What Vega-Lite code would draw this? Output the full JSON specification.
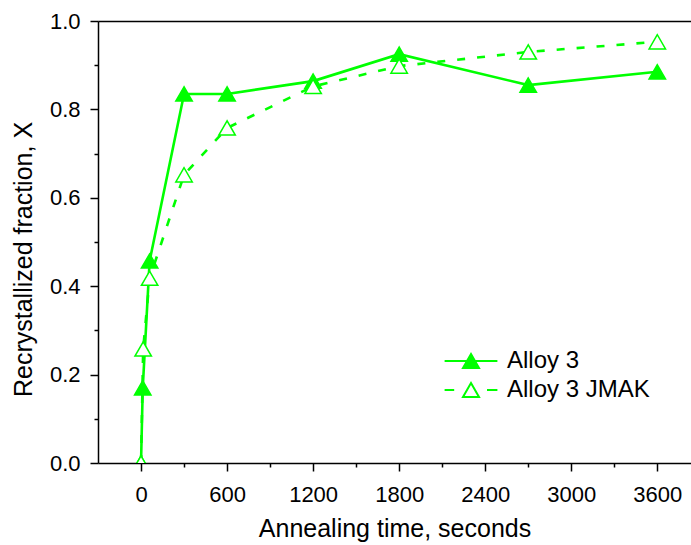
{
  "$schema": "https://vega.github.io/schema/vega-lite/v6.json",
  "width": 593,
  "height": 442,
  "autosize": {"type": "none"},
  "padding": {"left": 98, "top": 21, "right": 0, "bottom": 82},
  "background": "white",
  "config": {"view": {"stroke": null}, "font": "Liberation Sans"},
  "data": {"values": [
    {"series": "Alloy 3", "time": 0, "X": 0},
    {"series": "Alloy 3", "time": 12, "X": 0.17},
    {"series": "Alloy 3", "time": 60, "X": 0.457},
    {"series": "Alloy 3", "time": 300, "X": 0.835},
    {"series": "Alloy 3", "time": 600, "X": 0.835},
    {"series": "Alloy 3", "time": 1200, "X": 0.864},
    {"series": "Alloy 3", "time": 1800, "X": 0.925},
    {"series": "Alloy 3", "time": 2700, "X": 0.855},
    {"series": "Alloy 3", "time": 3600, "X": 0.885},
    {"series": "Alloy 3 JMAK", "time": 0, "X": 0},
    {"series": "Alloy 3 JMAK", "time": 15, "X": 0.258},
    {"series": "Alloy 3 JMAK", "time": 60, "X": 0.418},
    {"series": "Alloy 3 JMAK", "time": 300, "X": 0.652},
    {"series": "Alloy 3 JMAK", "time": 600, "X": 0.758},
    {"series": "Alloy 3 JMAK", "time": 1200, "X": 0.852},
    {"series": "Alloy 3 JMAK", "time": 1800, "X": 0.898},
    {"series": "Alloy 3 JMAK", "time": 2700, "X": 0.93},
    {"series": "Alloy 3 JMAK", "time": 3600, "X": 0.953}
  ]},
  "resolve": {"axis": {"x": "independent"}},
  "layer": [
    {
      "transform": [{"filter": "datum.series === 'Alloy 3'"}],
      "mark": {"type": "line", "strokeWidth": 2.6, "clip": true, "color": "#00ff00"},
      "encoding": {
        "x": {"field": "time", "type": "quantitative",
          "scale": {"domain": [-300, 3835], "nice": false, "zero": false},
          "axis": {
            "orient": "bottom",
            "values": [0, 300, 600, 900, 1200, 1500, 1800, 2100, 2400, 2700, 3000, 3300, 3600],
            "format": "d",
            "labelExpr": "datum.value % 600 === 0 ? datum.label : ''",
            "tickSize": {"condition": {"test": "datum.value % 600 === 0", "value": 8}, "value": 4},
            "tickColor": "black", "tickWidth": 1.5,
            "domainColor": "black", "domainWidth": 1.5,
            "labelFont": "Liberation Sans", "labelFontSize": 22, "labelColor": "black",
            "labelPadding": 13, "labelFlush": false, "labelOverlap": false,
            "grid": false,
            "title": "Annealing time, seconds",
            "titleFont": "Liberation Sans", "titleFontSize": 25, "titleFontWeight": "normal",
            "titleColor": "black", "titlePadding": 11
          }
        },
        "y": {"field": "X", "type": "quantitative",
          "scale": {"domain": [0, 1], "nice": false},
          "axis": {
            "values": [0, 0.1, 0.2, 0.3, 0.4, 0.5, 0.6, 0.7, 0.8, 0.9, 1.0],
            "labelExpr": "round(datum.value * 10) % 2 === 0 ? format(datum.value, '.1f') : ''",
            "tickSize": {"condition": {"test": "round(datum.value * 10) % 2 === 0", "value": 8}, "value": 4},
            "tickColor": "black", "tickWidth": 1.5,
            "domainColor": "black", "domainWidth": 1.5,
            "labelFont": "Liberation Sans", "labelFontSize": 22, "labelColor": "black",
            "labelPadding": 10, "labelFlush": false, "labelOverlap": false,
            "grid": false,
            "title": "Recrystallized fraction, X",
            "titleFont": "Liberation Sans", "titleFontSize": 25, "titleFontWeight": "normal",
            "titleColor": "black", "titlePadding": 13, "titleY": 238
          }
        }
      }
    },
    {
      "transform": [{"filter": "datum.series === 'Alloy 3 JMAK'"}],
      "mark": {"type": "line", "strokeWidth": 2.6, "clip": true, "color": "#00ff00", "strokeDash": [8, 12]},
      "encoding": {
        "x": {"field": "time", "type": "quantitative",
          "scale": {"domain": [-300, 3835], "nice": false, "zero": false},
          "axis": null},
        "y": {"field": "X", "type": "quantitative"}
      }
    },
    {
      "mark": {"type": "point", "shape": "triangle-up", "size": 270, "filled": true, "strokeWidth": 1.5, "opacity": 1, "clip": true},
      "encoding": {
        "x": {"field": "time", "type": "quantitative",
          "scale": {"domain": [-300, 3835], "nice": false, "zero": false},
          "axis": {"orient": "top", "labels": false, "ticks": false, "title": null, "grid": false,
            "domainColor": "black", "domainWidth": 1.5}
        },
        "y": {"field": "X", "type": "quantitative"},
        "fill": {"field": "series", "type": "nominal",
          "scale": {"domain": ["Alloy 3", "Alloy 3 JMAK"], "range": ["#00ff00", "#ffffff"]},
          "legend": {
            "title": null,
            "orient": "none",
            "legendX": 361,
            "legendY": 328,
            "values": ["Alloy 3"],
            "symbolSize": 256,
            "symbolType": "M-3.3,0L3.3,0M0,-0.866L1,0.866L-1,0.866Z",
            "symbolStrokeWidth": 2,
            "symbolStrokeColor": "#00ff00",
            "labelFont": "Liberation Sans", "labelFontSize": 24, "labelColor": "black",
            "labelOffset": 24
          }
        },
        "stroke": {"field": "series", "type": "nominal",
          "scale": {"domain": ["Alloy 3 JMAK", "Alloy 3"], "range": ["#00ff00", "#00ff00"]},
          "legend": {
            "title": null,
            "orient": "none",
            "legendX": 361,
            "legendY": 357,
            "values": ["Alloy 3 JMAK"],
            "symbolSize": 256,
            "symbolType": "M-3.3,0L-2.1,0M2,0L3.3,0M0,-0.866L1,0.866L-1,0.866Z",
            "symbolStrokeWidth": 2,
            "symbolFillColor": "white",
            "labelFont": "Liberation Sans", "labelFontSize": 24, "labelColor": "black",
            "labelOffset": 24
          }
        }
      }
    }
  ]
}
